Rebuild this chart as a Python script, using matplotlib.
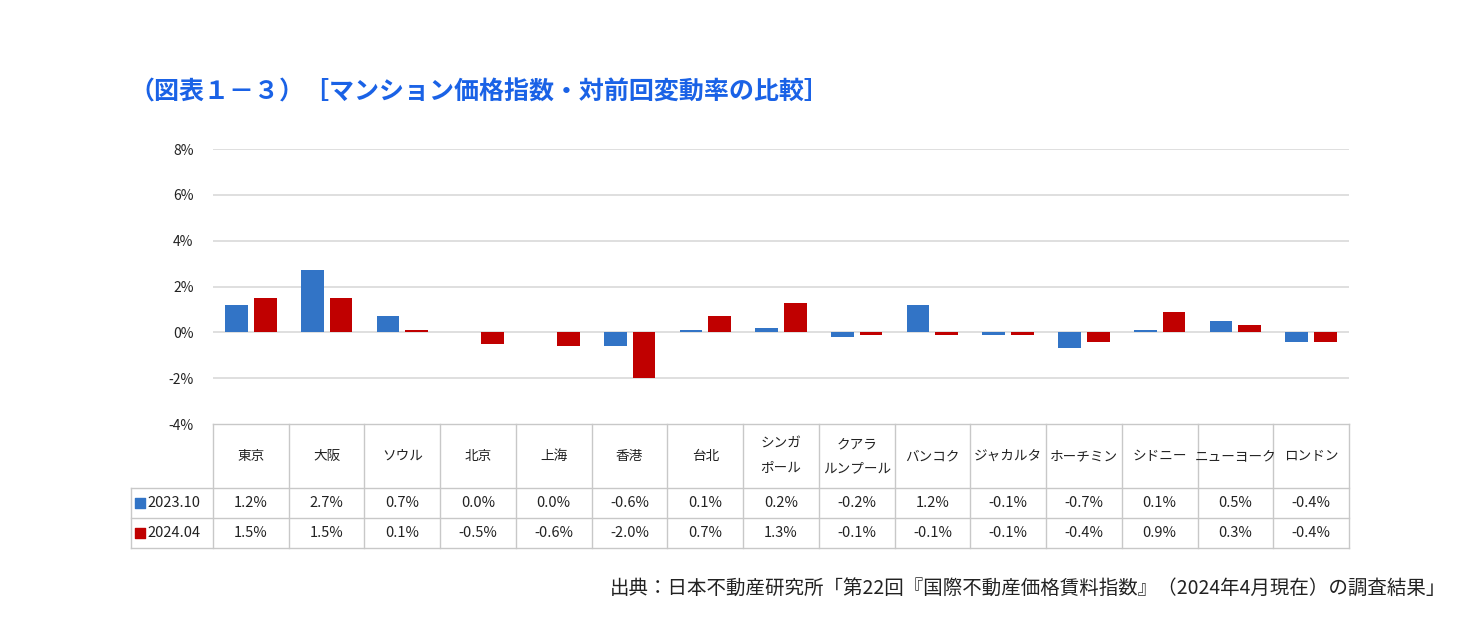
import matplotlib.pyplot as plt
import numpy as np

plt.rcParams['font.family'] = ['Noto Sans CJK JP', 'DejaVu Sans']

# data
cities = ["東京", "大阪", "ソウル", "北京", "上海", "香港", "台北", "シンガ\nポール",
          "クアラ\nルンプール", "バンコク", "ジャカルタ", "ホーチミン", "シドニー",
          "ニューヨーク", "ロンドン"]
s2023_10 = [1.2, 2.7, 0.7, 0.0, 0.0, -0.6, 0.1, 0.2, -0.2, 1.2, -0.1, -0.7, 0.1, 0.5, -0.4]
s2024_04 = [1.5, 1.5, 0.1, -0.5, -0.6, -2.0, 0.7, 1.3, -0.1, -0.1, -0.1, -0.4, 0.9, 0.3, -0.4]
series_names = ["2023.10", "2024.04"]
yticks = [-4, -2, 0, 2, 4, 6, 8]

blue = "#3274c6"
red = "#c00000"
grid_c = "#d9d9d9"
line_c = "#c8c8c8"

W, H = 1470, 640
fig = plt.figure(figsize=(W / 100, H / 100), dpi=100)

def fx(px):
    return px / W

def fy(py):
    return 1 - py / H

# plot area
x0, x1 = 213, 1349
ytop, ybot = 149, 424
ax = fig.add_axes([fx(x0), fy(ybot), fx(x1) - fx(x0), fy(ytop) - fy(ybot)])
n = len(cities)
x = np.arange(n) + 0.5
bw = 0.30
ax.bar(x - 0.19, s2023_10, bw, color=blue, linewidth=0, zorder=3)
ax.bar(x + 0.19, s2024_04, bw, color=red, linewidth=0, zorder=3)
ax.set_xlim(0, n)
ax.set_ylim(-4, 8)
ax.set_yticks(yticks)
ax.set_yticklabels([f"{t}%" for t in yticks], fontsize=10, color="#222222")
ax.yaxis.set_tick_params(length=0, pad=14)
ax.set_xticks([])
for t in yticks[1:]:
    ax.axhline(t, color=grid_c, linewidth=1.2, zorder=1)
for sp in ax.spines.values():
    sp.set_visible(False)

# table
tleft = 131
colw = (x1 - x0) / n
legw = (x0 - tleft) / colw
hdr_h, row_h = 64, 30
tbot = ybot + hdr_h + 2 * row_h
tax = fig.add_axes([fx(tleft), fy(tbot), fx(x1) - fx(tleft), fy(ybot) - fy(tbot)])
tax.set_xlim(-legw, n)
tax.set_ylim(hdr_h + 2 * row_h, 0)
tax.axis("off")

# horizontal lines
for yy in [0, hdr_h, hdr_h + row_h, hdr_h + 2 * row_h]:
    xs = -legw if yy > 0 else 0
    tax.plot([xs, n], [yy, yy], color=line_c, linewidth=1, clip_on=False)
# vertical lines
tax.plot([-legw, -legw], [hdr_h, hdr_h + 2 * row_h], color=line_c, linewidth=1, clip_on=False)
for i in range(n + 1):
    tax.plot([i, i], [0, hdr_h + 2 * row_h], color=line_c, linewidth=1, clip_on=False)

for i, c in enumerate(cities):
    tax.text(i + 0.5, hdr_h / 2, c, ha="center", va="center", fontsize=9.8,
             color="#222222", linespacing=1.9)
    tax.text(i + 0.5, hdr_h + row_h / 2, f"{s2023_10[i]:.1f}%", ha="center", va="center",
             fontsize=10.5, color="#222222")
    tax.text(i + 0.5, hdr_h + 1.5 * row_h, f"{s2024_04[i]:.1f}%", ha="center", va="center",
             fontsize=10.5, color="#222222")

for k, (name, col) in enumerate(zip(series_names, [blue, red])):
    yc = hdr_h + (k + 0.5) * row_h
    tax.scatter([-legw + 0.12], [yc], marker="s", s=60, color=col, clip_on=False)
    tax.text(-legw + 0.22, yc, name, ha="left", va="center", fontsize=10.5, color="#222222")

# title and source
fig.text(fx(129), fy(92), "（図表１－３）［マンション価格指数・対前回変動率の比較］",
         ha="left", va="center", fontsize=18, fontweight="bold", color="#1a62e6")
fig.text(fx(1446), fy(588),
         "出典：日本不動産研究所「第22回『国際不動産価格賃料指数』（2024年4月現在）の調査結果」",
         ha="right", va="center", fontsize=14, color="#222222")

fig.savefig("out.png", dpi=100, facecolor="white")
